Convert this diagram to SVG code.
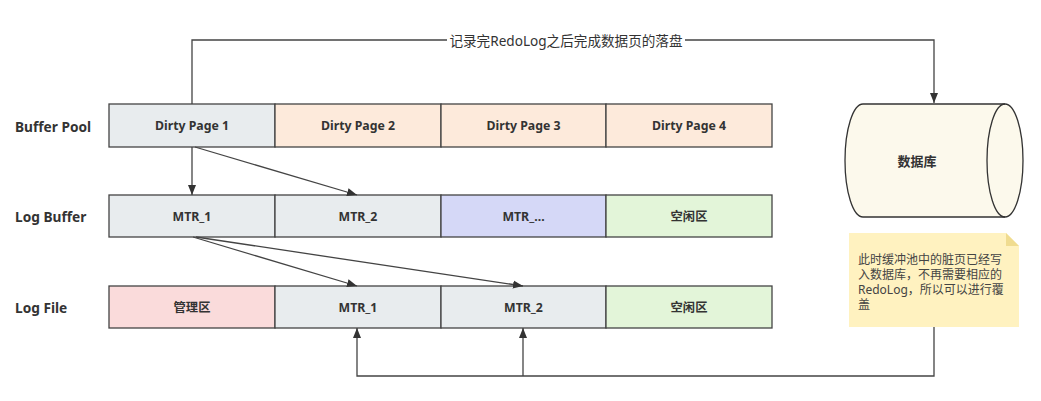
<svg xmlns="http://www.w3.org/2000/svg" width="1041" height="401" viewBox="0 0 1041 401">
<defs>
<marker id="arr" viewBox="0 0 10 10" refX="10" refY="5" markerWidth="10" markerHeight="10" markerUnits="userSpaceOnUse" orient="auto">
<path d="M0,1 L10,5 L0,9 Z" fill="#333"/>
</marker>
<style>
.cell{stroke:#444;stroke-width:1.3}
.t{font-family:"Noto Sans","Noto Sans CJK SC",sans-serif;font-size:12.3px;font-weight:bold;fill:#333;text-anchor:middle;dominant-baseline:central}
.lbl{font-family:"Noto Sans","Noto Sans CJK SC",sans-serif;font-size:13.7px;font-weight:bold;fill:#333;dominant-baseline:central}
.ln{fill:none;stroke:#444;stroke-width:1.3}
.note{font-family:"Noto Sans","Noto Sans CJK SC",sans-serif;font-size:12px;fill:#444;dominant-baseline:central}
.g{fill:#e8ecee}.p{fill:#fdeadb}.v{fill:#d5d8f7}.gr{fill:#e3f5d9}.pk{fill:#fadbdb}
</style>
</defs>
<rect width="1041" height="401" fill="#fff"/>
<g id="labels">
<text class="lbl" x="15" y="126">Buffer Pool</text>
<text class="lbl" x="15" y="216">Log Buffer</text>
<text class="lbl" x="15" y="307">Log File</text>
</g>
<g id="buffer-pool">
<g id="bp1"><rect class="cell g" x="109" y="104" width="166" height="43"/><text class="t" x="192" y="125.5">Dirty Page 1</text></g>
<g id="bp2"><rect class="cell p" x="275" y="104" width="166" height="43"/><text class="t" x="358" y="125.5">Dirty Page 2</text></g>
<g id="bp3"><rect class="cell p" x="441" y="104" width="165" height="43"/><text class="t" x="523.5" y="125.5">Dirty Page 3</text></g>
<g id="bp4"><rect class="cell p" x="606" y="104" width="166" height="43"/><text class="t" x="689" y="125.5">Dirty Page 4</text></g>
</g>
<g id="log-buffer">
<g id="lb1"><rect class="cell g" x="109" y="195" width="166" height="42"/><text class="t" x="192" y="216">MTR_1</text></g>
<g id="lb2"><rect class="cell g" x="275" y="195" width="166" height="42"/><text class="t" x="358" y="216">MTR_2</text></g>
<g id="lb3"><rect class="cell v" x="441" y="195" width="165" height="42"/><text class="t" x="523.5" y="216">MTR_...</text></g>
<g id="lb4"><rect class="cell gr" x="606" y="195" width="166" height="42"/><text class="t" x="689" y="216">空闲区</text></g>
</g>
<g id="log-file">
<g id="lf1"><rect class="cell pk" x="109" y="286" width="166" height="42"/><text class="t" x="192" y="307">管理区</text></g>
<g id="lf2"><rect class="cell g" x="275" y="286" width="166" height="42"/><text class="t" x="358" y="307">MTR_1</text></g>
<g id="lf3"><rect class="cell g" x="441" y="286" width="165" height="42"/><text class="t" x="523.5" y="307">MTR_2</text></g>
<g id="lf4"><rect class="cell gr" x="606" y="286" width="166" height="42"/><text class="t" x="689" y="307">空闲区</text></g>
</g>
<g id="database">
<path d="M863,104 L1005,104 A18,56.5 0 0 1 1005,217 L863,217 A18,56.5 0 0 1 863,104 Z" fill="#fcf9ec" stroke="#333" stroke-width="1.3"/>
<path d="M1005,104 A18,56.5 0 0 0 1005,217" fill="none" stroke="#333" stroke-width="1.3"/>
<text class="t" x="917" y="161" style="font-size:13px">数据库</text>
</g>
<g id="note">
<path d="M849,233 L1006,233 L1019,246 L1019,327 L849,327 Z" fill="#fff2c0"/>
<path d="M1006,233 L1019,246 L1006,246 Z" fill="#f0dc90"/>
<text class="note" x="858" y="259">此时缓冲池中的脏页已经写</text>
<text class="note" x="858" y="274">入数据库，不再需要相应的</text>
<text class="note" x="858" y="289">RedoLog，所以可以进行覆</text>
<text class="note" x="858" y="304">盖</text>
</g>
<g id="connectors">
<path class="ln" d="M192,104 L192,40 L934,40 L934,103" marker-end="url(#arr)"/>
<rect x="447" y="31" width="238" height="18" fill="#fff"/>
<text x="566" y="40" style="font-family:'Noto Sans','Noto Sans CJK SC',sans-serif;font-size:13.6px;fill:#333;text-anchor:middle;dominant-baseline:central">记录完RedoLog之后完成数据页的落盘</text>
<path class="ln" d="M192,147 L192,195" marker-end="url(#arr)"/>
<path class="ln" d="M195,147 L357,195" marker-end="url(#arr)"/>
<path class="ln" d="M193,237 L357,286" marker-end="url(#arr)"/>
<path class="ln" d="M196,237 L523,286" marker-end="url(#arr)"/>
<path class="ln" d="M934,327 L934,376 L357,376 L357,328" marker-end="url(#arr)"/>
<path class="ln" d="M523,376 L523,328" marker-end="url(#arr)"/>
</g>
</svg>
